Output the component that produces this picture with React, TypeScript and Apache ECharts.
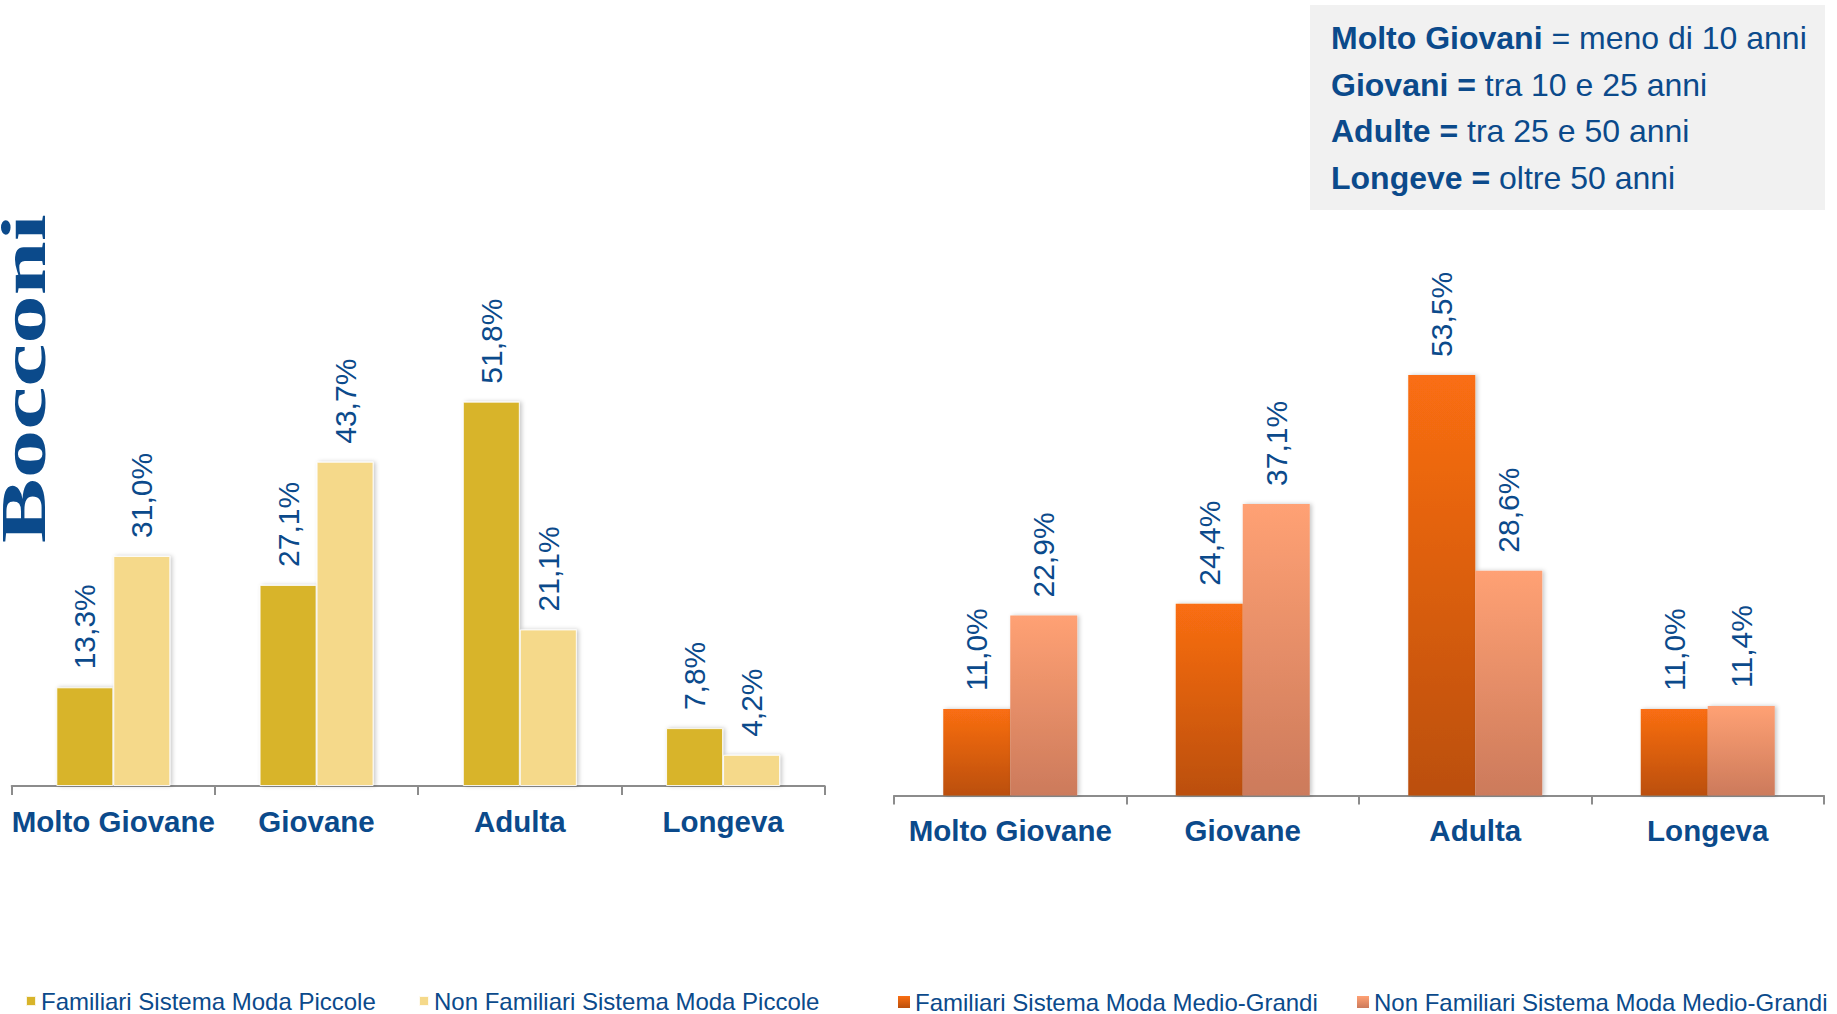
import React, { useEffect, useRef } from "react";
import * as echarts from "echarts";

const categories = ["Molto Giovane", "Giovane", "Adulta", "Longeva"];
const familiariPiccole = [13.3, 27.1, 51.8, 7.8];
const nonFamiliariPiccole = [31.0, 43.7, 21.1, 4.2];
const familiariMedioGrandi = [11.0, 24.4, 53.5, 11.0];
const nonFamiliariMedioGrandi = [22.9, 37.1, 28.6, 11.4];

const seriesNames = [
  "Familiari Sistema Moda Piccole",
  "Non Familiari Sistema Moda Piccole",
  "Familiari Sistema Moda Medio-Grandi",
  "Non Familiari Sistema Moda Medio-Grandi",
];

const definitions = [
  { bold: "Molto Giovani", rest: " = meno di 10 anni" },
  { bold: "Giovani =", rest: " tra 10 e 25 anni" },
  { bold: "Adulte =", rest: " tra 25 e 50 anni" },
  { bold: "Longeve =", rest: " oltre 50 anni" },
];

const BLUE = "#0B4A8B";
const FONT = "'Liberation Sans', Arial, sans-serif";
const AXIS_GREY = "#8c8c8c";

const fmt = (p: any) => p.value.toFixed(1).replace(".", ",") + "%";

const labelOpt = {
  show: true,
  position: "top",
  rotate: 90,
  align: "left",
  verticalAlign: "middle",
  distance: 18,
  fontSize: 30,
  color: BLUE,
  fontFamily: FONT,
  formatter: fmt,
};

const grad = (top: string, bottom: string) =>
  new echarts.graphic.LinearGradient(0, 0, 0, 1, [
    { offset: 0, color: top },
    { offset: 1, color: bottom },
  ]);

export default function App() {
  const ref = useRef<HTMLDivElement>(null);

  useEffect(() => {
    document.body.style.margin = "0";
    const chart = echarts.init(ref.current!, null, { renderer: "svg" });

    const xAxisBase = (gridIndex: number) => ({
      type: "category",
      gridIndex,
      data: categories,
      axisLine: { show: true, lineStyle: { color: AXIS_GREY, width: 2 } },
      axisTick: { show: true, length: 9, lineStyle: { color: AXIS_GREY, width: 2 } },
      axisLabel: {
        interval: 0,
        fontSize: 29.5,
        fontWeight: "bold",
        color: BLUE,
        margin: 20,
        fontFamily: FONT,
      },
    });

    const yAxisBase = (gridIndex: number) => ({
      type: "value",
      gridIndex,
      min: 0,
      max: 60,
      show: false,
    });

    const legendBase = (name: string, left: number, size: number, top: number) => ({
      left,
      top,
      padding: 0,
      itemWidth: size,
      itemHeight: size,
      icon: "rect",
      data: [name],
      selectedMode: false,
      textStyle: { fontSize: 24, color: BLUE, fontFamily: FONT },
    });

    const shadow = {
      shadowColor: "rgba(0,0,0,0.22)",
      shadowBlur: 4,
      shadowOffsetX: 2,
      shadowOffsetY: 0,
    };

    const graphics: any[] = [
      {
        type: "text",
        x: 24,
        y: 543,
        rotation: Math.PI / 2,
        scaleX: 1.54,
        scaleY: 1,
        style: {
          text: "Bocconi",
          fontFamily: "'Liberation Serif', 'Times New Roman', serif",
          fontWeight: "bold",
          fontSize: 63,
          lineHeight: 46,
          fill: BLUE,
          align: "left",
          verticalAlign: "middle",
        },
      },
      {
        type: "rect",
        shape: { x: 1310, y: 5, width: 515, height: 205 },
        style: { fill: "#F1F1F1" },
      },
    ];
    const lineYs = [38, 84.5, 131, 177.5];
    definitions.forEach((d, i) => {
      graphics.push({
        type: "text",
        x: 1331,
        y: lineYs[i],
        style: {
          text: "{b|" + d.bold + "}{r|" + d.rest + "}",
          rich: {
            b: { fontWeight: "bold", fontSize: 32, fill: BLUE, fontFamily: FONT },
            r: { fontWeight: "normal", fontSize: 32, fill: BLUE, fontFamily: FONT },
          },
          fontSize: 32,
          fontFamily: FONT,
          fill: BLUE,
          align: "left",
          verticalAlign: "middle",
        },
      });
    });

    chart.setOption({
      animation: false,
      backgroundColor: "#ffffff",
      grid: [
        { left: 11.7, top: 340.8, width: 813, height: 445.2 },
        { left: 894, top: 323.9, width: 930, height: 471.6 },
      ],
      xAxis: [xAxisBase(0), xAxisBase(1)],
      yAxis: [yAxisBase(0), yAxisBase(1)],
      legend: [
        legendBase(seriesNames[0], 25, 10, 989),
        legendBase(seriesNames[1], 418, 10, 989),
        legendBase(seriesNames[2], 898, 12, 990),
        legendBase(seriesNames[3], 1357, 12, 990),
      ],
      series: [
        {
          name: seriesNames[0],
          type: "bar",
          xAxisIndex: 0,
          yAxisIndex: 0,
          data: familiariPiccole,
          barWidth: 57,
          barGap: "0%",
          itemStyle: { color: "#D8B42A", borderColor: "rgba(255,255,255,0.85)", borderWidth: 1, ...shadow },
          label: labelOpt,
        },
        {
          name: seriesNames[1],
          type: "bar",
          xAxisIndex: 0,
          yAxisIndex: 0,
          data: nonFamiliariPiccole,
          barWidth: 57,
          barGap: "0%",
          itemStyle: { color: "#F5D98A", borderColor: "rgba(255,255,255,0.85)", borderWidth: 1, ...shadow },
          label: labelOpt,
        },
        {
          name: seriesNames[2],
          type: "bar",
          xAxisIndex: 1,
          yAxisIndex: 1,
          data: familiariMedioGrandi,
          barWidth: 67,
          barGap: "0%",
          itemStyle: { color: grad("#FA6E12", "#BB4F0C"), ...shadow },
          label: labelOpt,
        },
        {
          name: seriesNames[3],
          type: "bar",
          xAxisIndex: 1,
          yAxisIndex: 1,
          data: nonFamiliariMedioGrandi,
          barWidth: 67,
          barGap: "0%",
          itemStyle: { color: grad("#FFA174", "#CC7A5B"), ...shadow },
          label: labelOpt,
        },
      ],
      graphic: graphics,
    });

    return () => chart.dispose();
  }, []);

  return (
    <div
      ref={ref}
      style={{ position: "absolute", left: 0, top: 0, width: 1837, height: 1014 }}
    />
  );
}
